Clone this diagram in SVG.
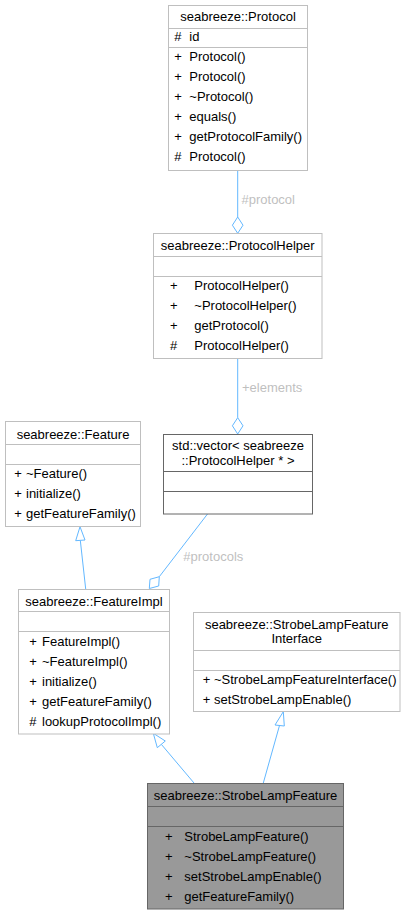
<svg xmlns="http://www.w3.org/2000/svg" width="405" height="915" viewBox="0 0 405 915">
<style>
text{font-family:"Liberation Sans",Arial,sans-serif;font-size:13px;fill:#000}
.t{text-anchor:middle}
.box{fill:#fff;stroke:#bfbfbf;stroke-width:1}
.dbox{fill:#fff;stroke:#666;stroke-width:1}
.fbox{fill:#999;stroke:#666;stroke-width:1}
.sep{stroke:#bfbfbf;stroke-width:1}
.dsep{stroke:#666;stroke-width:1}
.e{fill:none;stroke:#63b8ff;stroke-width:1}
.h{fill:#fff;stroke:#63b8ff;stroke-width:1}
.lbl{fill:#bfbfbf}
</style>
<rect width="405" height="915" fill="#fff"/>
<g id="connectors">
<line class="e" x1="237.7" y1="170.5" x2="237.7" y2="217"/>
<polygon class="h" points="237.7,217 243,225.2 237.7,233.3 232.4,225.2"/>
<text class="lbl" x="241.5" y="204">#protocol</text>
<line class="e" x1="237.7" y1="358.5" x2="237.7" y2="417.7"/>
<polygon class="h" points="237.7,417.7 243,425.8 237.7,434 232.4,425.8"/>
<text class="lbl" x="242" y="392">+elements</text>
<line class="e" x1="207.5" y1="514" x2="159.3" y2="576.7"/>
<polygon class="h" points="159.3,576.7 150,579.3 149.3,588.5 158.7,586"/>
<text class="lbl" x="183.3" y="561">#protocols</text>
<line class="e" x1="85.7" y1="589" x2="80.3" y2="540.3"/>
<polygon class="h" points="80,526.7 85,540 75.7,540.7"/>
<line class="e" x1="194" y1="783" x2="161.3" y2="744.3"/>
<polygon class="h" points="153.3,733.3 165.3,741 157.3,747.7"/>
<line class="e" x1="263.3" y1="783" x2="279.5" y2="725.5"/>
<polygon class="h" points="283.3,711.7 284.3,726 275,725"/>
</g>
<g id="protocol">
<rect class="box" x="168.5" y="5.5" width="139" height="165"/>
<line class="sep" x1="168.5" y1="28.5" x2="307.5" y2="28.5"/>
<line class="sep" x1="168.5" y1="47.5" x2="307.5" y2="47.5"/>
<text class="t" x="238" y="21">seabreeze::Protocol</text>
<text x="174.3" y="41">#</text><text x="189.3" y="41">id</text>
<text x="174.3" y="61">+</text><text x="189.3" y="61">Protocol()</text>
<text x="174.3" y="81">+</text><text x="189.3" y="81">Protocol()</text>
<text x="174.3" y="101">+</text><text x="189.3" y="101">~Protocol()</text>
<text x="174.3" y="121">+</text><text x="189.3" y="121">equals()</text>
<text x="174.3" y="141">+</text><text x="189.3" y="141">getProtocolFamily()</text>
<text x="174.3" y="161">#</text><text x="189.3" y="161">Protocol()</text>
</g>
<g id="protocolhelper">
<rect class="box" x="153.5" y="233.5" width="168.5" height="125"/>
<line class="sep" x1="153.5" y1="256.5" x2="322" y2="256.5"/>
<line class="sep" x1="153.5" y1="276.5" x2="322" y2="276.5"/>
<text class="t" x="237.7" y="249.5">seabreeze::ProtocolHelper</text>
<text x="170" y="289.5">+</text><text x="194.3" y="289.5">ProtocolHelper()</text>
<text x="170" y="309.5">+</text><text x="194.3" y="309.5">~ProtocolHelper()</text>
<text x="170" y="329.5">+</text><text x="194.3" y="329.5">getProtocol()</text>
<text x="170" y="349.5">#</text><text x="194.3" y="349.5">ProtocolHelper()</text>
</g>
<g id="vector">
<rect class="dbox" x="163.5" y="434.5" width="149" height="79.5"/>
<line class="dsep" x1="163.5" y1="471.5" x2="312.5" y2="471.5"/>
<line class="dsep" x1="163.5" y1="491.5" x2="312.5" y2="491.5"/>
<text class="t" x="238" y="450">std::vector&lt; seabreeze</text>
<text class="t" x="238" y="465">::ProtocolHelper * &gt;</text>
</g>
<g id="feature">
<rect class="box" x="5.5" y="421.5" width="135" height="105"/>
<line class="sep" x1="5.5" y1="444.5" x2="140.5" y2="444.5"/>
<line class="sep" x1="5.5" y1="464.5" x2="140.5" y2="464.5"/>
<text class="t" x="73" y="438.5">seabreeze::Feature</text>
<text x="14.3" y="478">+</text><text x="26" y="478">~Feature()</text>
<text x="14.3" y="498">+</text><text x="26" y="498">initialize()</text>
<text x="14.3" y="518">+</text><text x="26" y="518">getFeatureFamily()</text>
</g>
<g id="featureimpl">
<rect class="box" x="18.5" y="589.5" width="151" height="144.5"/>
<line class="sep" x1="18.5" y1="611.5" x2="169.5" y2="611.5"/>
<line class="sep" x1="18.5" y1="631.5" x2="169.5" y2="631.5"/>
<text class="t" x="94" y="606">seabreeze::FeatureImpl</text>
<text x="29.3" y="646">+</text><text x="42" y="646">FeatureImpl()</text>
<text x="29.3" y="666">+</text><text x="42" y="666">~FeatureImpl()</text>
<text x="29.3" y="686">+</text><text x="42" y="686">initialize()</text>
<text x="29.3" y="706">+</text><text x="42" y="706">getFeatureFamily()</text>
<text x="29.3" y="726">#</text><text x="42" y="726">lookupProtocolImpl()</text>
</g>
<g id="strobelampfeatureinterface">
<rect class="box" x="193.5" y="612.5" width="206.5" height="99"/>
<line class="sep" x1="193.5" y1="650.5" x2="400" y2="650.5"/>
<line class="sep" x1="193.5" y1="670.5" x2="400" y2="670.5"/>
<text class="t" x="296.7" y="629">seabreeze::StrobeLampFeature</text>
<text class="t" x="296.7" y="643">Interface</text>
<text x="202.7" y="684">+</text><text x="214" y="684">~StrobeLampFeatureInterface()</text>
<text x="202.7" y="704">+</text><text x="214" y="704">setStrobeLampEnable()</text>
</g>
<g id="strobelampfeature">
<rect class="fbox" x="147.5" y="783.5" width="196" height="125.5"/>
<line class="dsep" x1="147.5" y1="806.5" x2="343.5" y2="806.5"/>
<line class="dsep" x1="147.5" y1="826.5" x2="343.5" y2="826.5"/>
<text class="t" x="245.5" y="799.5">seabreeze::StrobeLampFeature</text>
<text x="165" y="840.5">+</text><text x="184.3" y="840.5">StrobeLampFeature()</text>
<text x="165" y="860.5">+</text><text x="184.3" y="860.5">~StrobeLampFeature()</text>
<text x="165" y="880.5">+</text><text x="184.3" y="880.5">setStrobeLampEnable()</text>
<text x="165" y="900.5">+</text><text x="184.3" y="900.5">getFeatureFamily()</text>
</g>
</svg>
